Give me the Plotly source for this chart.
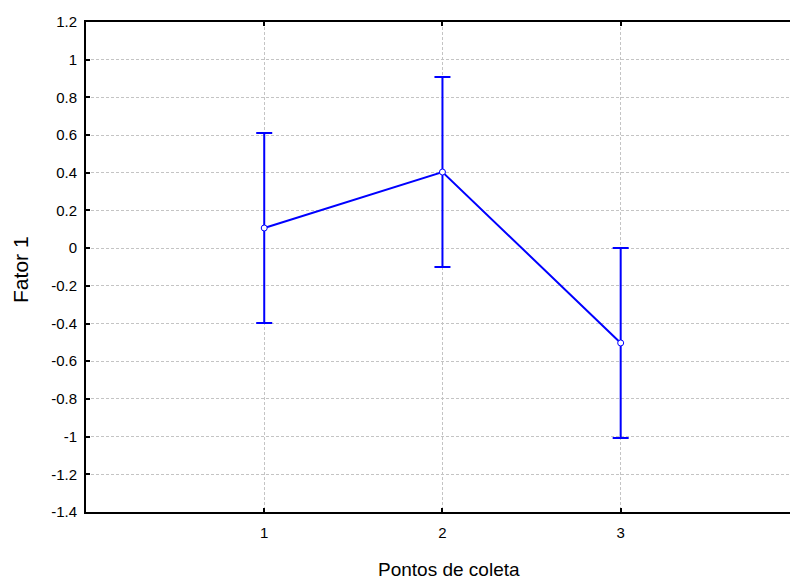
import plotly.graph_objects as go

# Mean factor score per sampling point, with the half-width of its interval
pontos = [1, 2, 3]
fator1 = [0.107, 0.404, -0.503]
erro = [0.504, 0.504, 0.504]

y_ticks = [1.2, 1.0, 0.8, 0.6, 0.4, 0.2, 0.0, -0.2, -0.4, -0.6, -0.8, -1.0, -1.2, -1.4]
y_labels = ["1.2", "1", "0.8", "0.6", "0.4", "0.2", "0", "-0.2", "-0.4", "-0.6",
            "-0.8", "-1", "-1.2", "-1.4"]
x_labels = ["1", "2", "3"]

BLUE = "#0000ff"
FONT = "Liberation Sans, Arial, sans-serif"
GRID = "#c4c4c4"

fig = go.Figure()
fig.add_trace(go.Scatter(
    x=pontos, y=fator1,
    mode="lines+markers",
    line=dict(color=BLUE, width=2),
    marker=dict(symbol="circle", size=6, color="white",
                line=dict(color=BLUE, width=1)),
    error_y=dict(type="data", array=erro, visible=True,
                 color=BLUE, thickness=2, width=8),
    showlegend=False,
))

fig.update_layout(
    width=790, height=580,
    margin=dict(l=86, r=0, t=22, b=68),
    paper_bgcolor="white", plot_bgcolor="white",
    font=dict(family=FONT, color="black"),
    xaxis=dict(
        range=[0, 3.95],
        tickmode="array", tickvals=pontos, ticktext=x_labels,
        ticks="inside", ticklen=4, tickwidth=2, tickcolor="black",
        showline=True, linecolor="black", linewidth=2, mirror="ticks",
        showgrid=True, gridcolor=GRID, griddash="3px,2px", gridwidth=1,
        zeroline=False,
        tickfont=dict(size=15, family=FONT),
        ticklabelstandoff=6,
    ),
    yaxis=dict(
        range=[-1.4, 1.2],
        tickmode="array", tickvals=y_ticks, ticktext=y_labels,
        ticks="inside", ticklen=4, tickwidth=2, tickcolor="black",
        showline=True, linecolor="black", linewidth=2,
        showgrid=True, gridcolor=GRID, griddash="3px,2px", gridwidth=1,
        zeroline=False,
        tickfont=dict(size=15, family=FONT),
        ticklabelstandoff=4,
    ),
    annotations=[
        dict(text="Pontos de coleta", xref="paper", yref="paper",
             x=0.5156, y=-0.118, xanchor="center", yanchor="middle",
             showarrow=False, font=dict(size=19, family=FONT)),
        dict(text="Fator 1", xref="paper", yref="paper",
             x=-0.0923, y=0.494, xanchor="center", yanchor="middle",
             textangle=-90, showarrow=False, font=dict(size=21, family=FONT)),
    ],
)

fig.write_html("out.html")
